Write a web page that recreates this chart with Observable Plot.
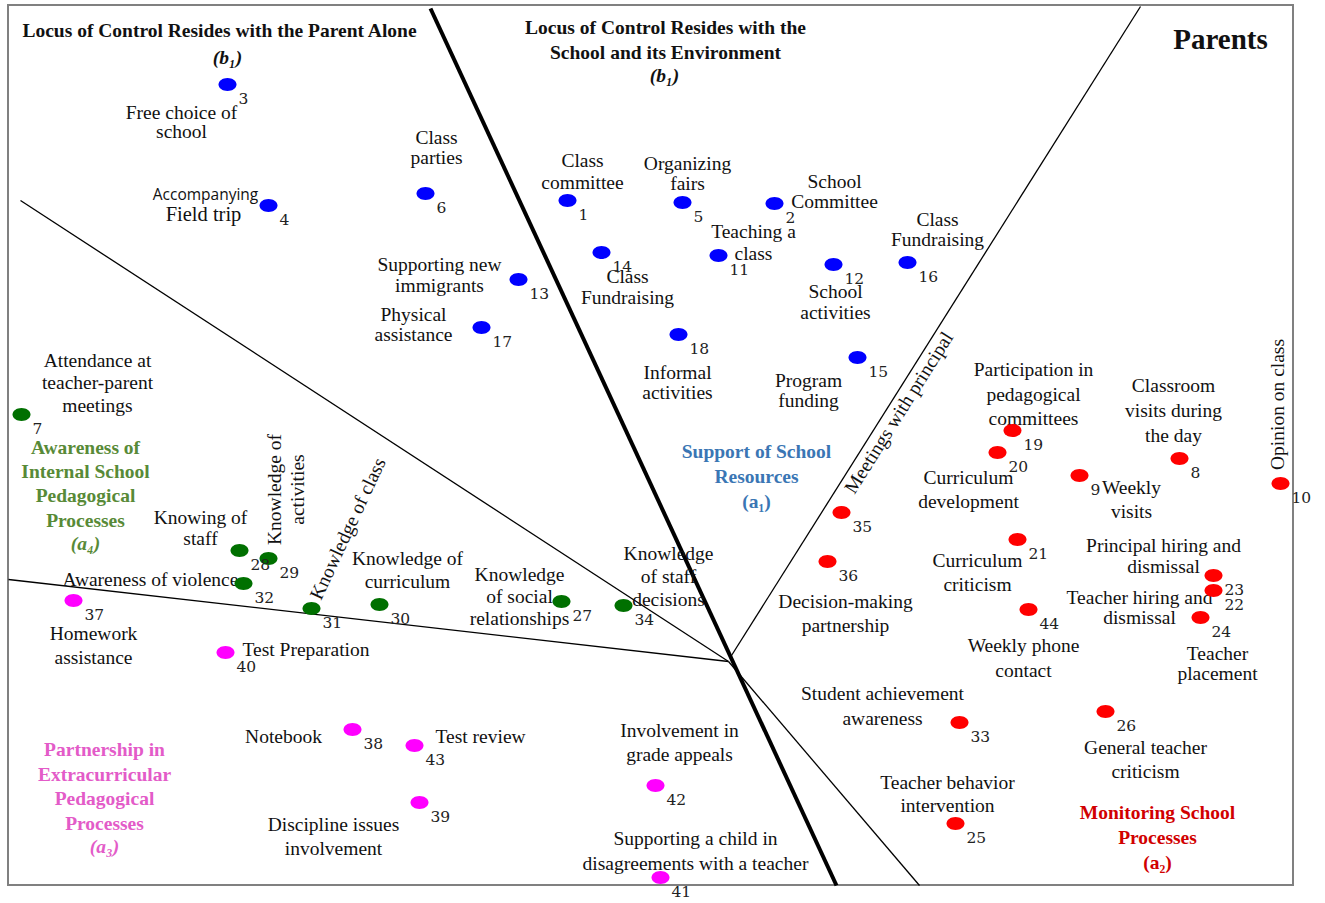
<!DOCTYPE html>
<html>
<head>
<meta charset="utf-8">
<script src="https://cdn.jsdelivr.net/npm/d3@7"></script>
<script src="https://cdn.jsdelivr.net/npm/@observablehq/plot@0.6"></script>
<style>
  html, body { margin: 0; padding: 0; background: #fff; }
  g[aria-label="item numbers"] text { letter-spacing: 1.5px; }
</style>
</head>
<body>
<div id="chart"></div>
<script>
// ---- Data: MDS map coordinates ----
const itemIds = [1,2,3,4,5,6,7,8,9,10,11,12,13,14,15,16,17,18,19,20,21,22,23,24,25,26,27,28,29,30,31,32,33,34,35,36,37,38,39,40,41,42,43,44];
const itemX = [567,774,227,268,682,425,21,1179,1079,1280,718,833,518,601,857,907,481,678,1012,997,1017,1213,1213,1200,955,1105,561,239,268,379,311,243,959,623,841,827,73,352,419,225,660,655,414,1028];
const itemY = [200,203,84,205,202,193,414,458,475,483,255,264,279,252,357,262,327,334,430,452,539,590,575,617,823,711,601,550,558,604,608,583,722,605,512,561,600,729,802,652,877,785,745,609];
const itemGroup = ["a1","a1","a1","a1","a1","a1","a4","a2","a2","a2","a1","a1","a1","a1","a1","a1","a1","a1","a2","a2","a2","a2","a2","a2","a2","a2","a4","a4","a4","a4","a4","a4","a2","a4","a2","a2","a3","a3","a3","a3","a3","a3","a3","a2"];
const groupColor = {a1: "#0000ff", a2: "#ff0000", a3: "#ff00ff", a4: "#007000"};

// Region dividers (map coordinates)
const dividers = [
  {x1: 430, y1: 8,   x2: 836, y2: 885, w: 4},
  {x1: 1140, y1: 6,  x2: 731, y2: 655, w: 1.3},
  {x1: 20,  y1: 200, x2: 728, y2: 661, w: 1.3},
  {x1: 8,   y1: 579, x2: 728, y2: 661, w: 1.3},
  {x1: 728, y1: 661, x2: 919, y2: 885, w: 1.3}
];
const frameBox = [{x1: 8, y1: 5, x2: 1293, y2: 885}];

const items = itemIds.map((id, i) => ({id, x: itemX[i], y: itemY[i], group: itemGroup[i]}));

// ---- Annotation layout ----
const SERIF = "Liberation Serif, Times New Roman, serif";
const BASE = 19.5;
const labels = [
  // titles
  {t: "Locus of Control Resides with the Parent Alone", x: 219, y: 30, b: true},
  {t: "(b\u2081)", x: 227, y: 57, b: true, i: true},
  {t: "Locus of Control Resides with the\nSchool and its Environment", x: 665, y: 37.5, b: true, lh: 25},
  {t: "(b\u2081)", x: 664, y: 75, b: true, i: true},
  {t: "Parents", x: 1220, y: 42, s: 29, b: true},
  // category labels
  {t: "Support of School\nResources\n(a\u2081)", x: 756, y: 474, b: true, lh: 25, c: "#3a76b4"},
  {t: "Monitoring School\nProcesses\n(a\u2082)", x: 1157, y: 835, b: true, lh: 25, c: "#d10000"},
  {t: "Partnership in\nExtracurricular\nPedagogical\nProcesses", x: 104, y: 784.5, b: true, lh: 24.5, c: "#e35bc8"},
  {t: "(a\u2083)", x: 104, y: 846, b: true, i: true, c: "#e35bc8"},
  {t: "Awareness of\nInternal School\nPedagogical\nProcesses", x: 85, y: 482, b: true, lh: 24.2, c: "#588a37"},
  {t: "(a\u2084)", x: 85, y: 543, b: true, i: true, c: "#588a37"},
  // item labels
  {t: "Free choice of\nschool", x: 181, y: 122, lh: 18.5},
  {t: "Accompanying", x: 205, y: 193, s: 15.5, f: "Open Sans, DejaVu Sans, sans-serif"},
  {t: "Field trip", x: 203, y: 214, s: 20.5},
  {t: "Class\nparties", x: 436, y: 147, lh: 20.5},
  {t: "Class\ncommittee", x: 582, y: 170, lh: 22},
  {t: "Organizing\nfairs", x: 687, y: 173, lh: 20},
  {t: "School\nCommittee", x: 834, y: 191, lh: 20},
  {t: "Teaching a\nclass", x: 753, y: 241, lh: 22},
  {t: "Class\nFundraising", x: 937, y: 229, lh: 20},
  {t: "Supporting new\nimmigrants", x: 439, y: 274.5, lh: 21},
  {t: "Class\nFundraising", x: 627, y: 286, lh: 21},
  {t: "School\nactivities", x: 835, y: 301.5, lh: 21},
  {t: "Physical\nassistance", x: 413, y: 324, lh: 20},
  {t: "Informal\nactivities", x: 677, y: 382, lh: 20},
  {t: "Program\nfunding", x: 808, y: 390, lh: 20},
  {t: "Meetings with principal", x: 898, y: 412, r: -57.8},
  {t: "Participation in\npedagogical\ncommittees", x: 1033, y: 392.5, lh: 24.5},
  {t: "Classroom\nvisits during\nthe day", x: 1173, y: 408, lh: 25},
  {t: "Opinion on class", x: 1277, y: 404, r: -90},
  {t: "Curriculum\ndevelopment", x: 968, y: 488, lh: 24},
  {t: "Weekly\nvisits", x: 1131, y: 498, lh: 24},
  {t: "Curriculum\ncriticism", x: 977, y: 571, lh: 24},
  {t: "Principal hiring and\ndismissal", x: 1163, y: 555.5, lh: 21},
  {t: "Teacher hiring and\ndismissal", x: 1139, y: 607, lh: 20},
  {t: "Teacher\nplacement", x: 1217, y: 663, lh: 20},
  {t: "Decision-making\npartnership", x: 845, y: 612, lh: 24},
  {t: "Weekly phone\ncontact", x: 1023, y: 655.5, lh: 25},
  {t: "Student achievement\nawareness", x: 882, y: 703.5, lh: 25},
  {t: "General teacher\ncriticism", x: 1145, y: 758, lh: 24},
  {t: "Teacher behavior\nintervention", x: 947, y: 792.5, lh: 23},
  {t: "Attendance at\nteacher-parent\nmeetings", x: 97, y: 381.5, lh: 22.7},
  {t: "Knowing of\nstaff", x: 200, y: 527.5, lh: 21},
  {t: "Knowledge of\nactivities", x: 285, y: 489, lh: 23, r: -90},
  {t: "Knowledge of class", x: 347, y: 528, r: -65},
  {t: "Awareness of violence", x: 150, y: 579},
  {t: "Knowledge of\ncurriculum", x: 407, y: 568.5, lh: 23},
  {t: "Knowledge\nof social\nrelationships", x: 519, y: 595, lh: 22},
  {t: "Knowledge\nof staff\ndecisions", x: 668, y: 575, lh: 23},
  {t: "Homework\nassistance", x: 93, y: 644, lh: 24},
  {t: "Test Preparation", x: 242, y: 649, a: "start"},
  {t: "Notebook", x: 283, y: 736},
  {t: "Test review", x: 435, y: 736, a: "start"},
  {t: "Discipline issues\ninvolvement", x: 333, y: 835, lh: 24},
  {t: "Involvement in\ngrade appeals", x: 679, y: 740.5, lh: 24.5},
  {t: "Supporting a child in\ndisagreements with a teacher", x: 695, y: 848.5, lh: 25}
];

// ---- Ellipse symbol for the item markers ----
const ellipse = {
  draw(ctx) {
    const rx = 9, ry = 6.5, k = 0.5523;
    ctx.moveTo(rx, 0);
    ctx.bezierCurveTo(rx, ry * k, rx * k, ry, 0, ry);
    ctx.bezierCurveTo(-rx * k, ry, -rx, ry * k, -rx, 0);
    ctx.bezierCurveTo(-rx, -ry * k, -rx * k, -ry, 0, -ry);
    ctx.bezierCurveTo(rx * k, -ry, rx, -ry * k, rx, 0);
    ctx.closePath();
  }
};

const labelMarks = labels.map(L => {
  const s = L.s || BASE;
  return Plot.text([L], {
    x: "x", y: "y", text: "t",
    fontSize: s,
    fontFamily: L.f || SERIF,
    fontWeight: L.b ? "bold" : "normal",
    fontStyle: L.i ? "italic" : "normal",
    fill: L.c || "#111",
    textAnchor: L.a || "middle",
    lineAnchor: "middle",
    lineHeight: (L.lh || 21) / s,
    rotate: L.r || 0
  });
});

const chart = Plot.plot({
  width: 1325,
  height: 903,
  margin: 0,
  x: {domain: [0, 1325], range: [0, 1325], axis: null},
  y: {domain: [0, 903], range: [0, 903], axis: null},
  color: {type: "identity"},
  style: {background: "#fff", overflow: "visible"},
  marks: [
    Plot.rect(frameBox, {x1: "x1", x2: "x2", y1: "y1", y2: "y2", fill: "none", stroke: "#808080", strokeWidth: 2}),
    Plot.link(dividers, {x1: "x1", y1: "y1", x2: "x2", y2: "y2", stroke: "#000", strokeWidth: d => d.w}),
    ...labelMarks,
    Plot.dot(items, {x: "x", y: "y", symbol: ellipse, fill: d => groupColor[d.group], stroke: "none"}),
    Plot.text(items, {
      x: d => d.x + 11, y: d => d.y + 15, text: d => String(d.id),
      textAnchor: "start", lineAnchor: "middle",
      fontFamily: "DejaVu Serif, serif", fontSize: 15.5, fill: "#222",
      ariaLabel: "item numbers"
    })
  ]
});
document.getElementById("chart").appendChild(chart);
</script>
</body>
</html>
